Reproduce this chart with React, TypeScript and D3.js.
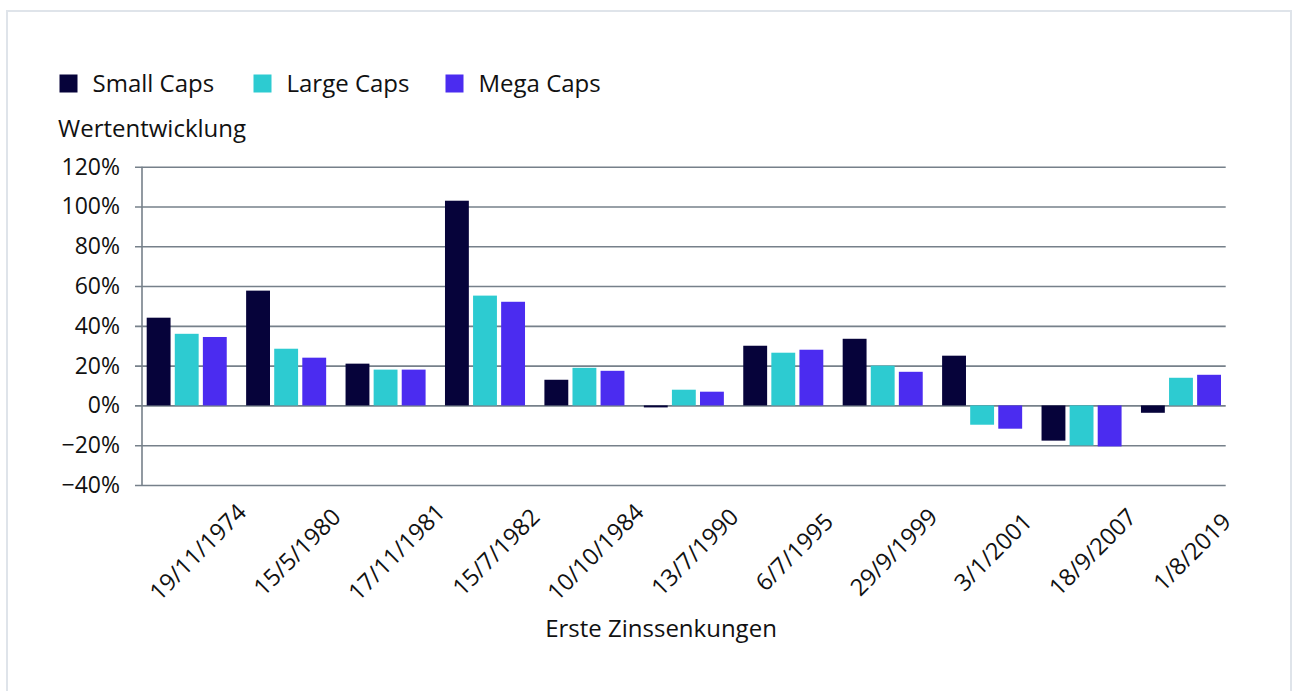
import React, { useRef, useEffect } from 'react';
import * as d3 from 'd3';

const categories = ['19/11/1974', '15/5/1980', '17/11/1981', '15/7/1982', '10/10/1984', '13/7/1990', '6/7/1995', '29/9/1999', '3/1/2001', '18/9/2007', '1/8/2019'];
const seriesNames = ['Small Caps', 'Large Caps', 'Mega Caps'];
const smallCaps = [44.1, 57.7, 21.0, 102.9, 12.9, -1.0, 30.0, 33.5, 25.0, -17.7, -3.7];
const largeCaps = [36.0, 28.5, 18.0, 55.2, 18.9, 7.9, 26.5, 20.0, -9.7, -20.1, 13.9];
const megaCaps = [34.4, 24.0, 18.0, 52.1, 17.4, 6.9, 28.0, 16.9, -11.7, -20.6, 15.4];
const yTicks = [-40, -20, 0, 20, 40, 60, 80, 100, 120];
const colors = ['#06033a', '#2dcbd1', '#4b2cf0'];

const FONT = '"Open Sans", sans-serif';

const App: React.FC = () => {
  const ref = useRef<SVGSVGElement | null>(null);

  useEffect(() => {
    if (!ref.current) return;
    const svg = d3.select(ref.current);
    svg.selectAll('*').remove();

    const width = 1293;
    const height = 691;
    const plot = { left: 142, right: 1225.7, top: 166.7, bottom: 485 };

    // outer frame
    svg.append('rect')
      .attr('x', 7).attr('y', 11)
      .attr('width', 1284).attr('height', height + 20)
      .attr('fill', 'white')
      .attr('stroke', '#dfe4ea')
      .attr('stroke-width', 2);

    const y = d3.scaleLinear().domain([-40, 120]).range([plot.bottom, plot.top]);

    // groups of bars
    const x0 = d3.scaleBand<string>()
      .domain(categories)
      .range([146.7, 1221])
      .paddingInner(0.195)
      .paddingOuter(0);

    const x1 = d3.scaleBand<string>()
      .domain(seriesNames)
      .range([0, x0.bandwidth()])
      .paddingInner(0.15);

    // gridlines + labels via axis
    const yAxis = svg.append('g')
      .attr('transform', `translate(${plot.left},0)`)
      .call(d3.axisLeft(y)
        .tickValues(yTicks)
        .tickSizeInner(-(plot.right - plot.left))
        .tickSizeOuter(0)
        .tickPadding(22)
        .tickFormat(d => `${d < 0 ? '\u2212' + Math.abs(+d) : d}%`));

    yAxis.select('.domain').remove();
    yAxis.selectAll('.tick line')
      .attr('x1', -7)
      .attr('stroke', '#76808a')
      .attr('stroke-width', 1.6);
    yAxis.selectAll('.tick text')
      .attr('font-family', FONT)
      .attr('font-size', 23)
      .attr('fill', '#111');

    svg.append('line')
      .attr('x1', plot.left).attr('x2', plot.left)
      .attr('y1', y(120)).attr('y2', y(-40))
      .attr('stroke', '#76808a')
      .attr('stroke-width', 1.6);

    const allSeries = [smallCaps, largeCaps, megaCaps];

    const groups = svg.append('g')
      .selectAll('g')
      .data(categories)
      .join('g')
      .attr('transform', d => `translate(${x0(d)},0)`);

    groups.selectAll('rect')
      .data((_, i) => allSeries.map((s, k) => ({ name: seriesNames[k], value: s[i], k })))
      .join('rect')
      .attr('x', d => x1(d.name)!)
      .attr('width', x1.bandwidth())
      .attr('y', d => y(Math.max(0, d.value)))
      .attr('height', d => Math.abs(y(d.value) - y(0)))
      .attr('fill', d => colors[d.k]);

    // category labels, rotated
    svg.append('g')
      .selectAll('text')
      .data(categories)
      .join('text')
      .attr('transform', d => `translate(${x0(d)! + x0.bandwidth() / 2 + 11},552) rotate(-45)`)
      .attr('text-anchor', 'middle')
      .attr('dy', '0.35em')
      .attr('font-family', FONT)
      .attr('font-size', 23.5)
      .attr('fill', '#111')
      .text(d => d);

    // axis titles
    svg.append('text')
      .attr('x', 661).attr('y', 637)
      .attr('text-anchor', 'middle')
      .attr('font-family', FONT)
      .attr('font-size', 24)
      .attr('fill', '#111')
      .text('Erste Zinssenkungen');

    svg.append('text')
      .attr('x', 58).attr('y', 137)
      .attr('font-family', FONT)
      .attr('font-size', 24)
      .attr('fill', '#111')
      .text('Wertentwicklung');

    // legend
    const legendX = [59.5, 253.5, 445.5];
    const legend = svg.append('g')
      .selectAll('g')
      .data(seriesNames)
      .join('g')
      .attr('transform', (_, i) => `translate(${legendX[i]},74.5)`);
    legend.append('rect')
      .attr('width', 18).attr('height', 18)
      .attr('fill', (_, i) => colors[i]);
    legend.append('text')
      .attr('x', 33).attr('y', 17.5)
      .attr('font-family', FONT)
      .attr('font-size', 24)
      .attr('fill', '#111')
      .text(d => d);

    svg.attr('width', width).attr('height', height);
  }, []);

  return (
    <svg
      ref={ref}
      width={1293}
      height={691}
      style={{ position: 'absolute', left: 0, top: 0, display: 'block', background: 'white' }}
    />
  );
};

export default App;
